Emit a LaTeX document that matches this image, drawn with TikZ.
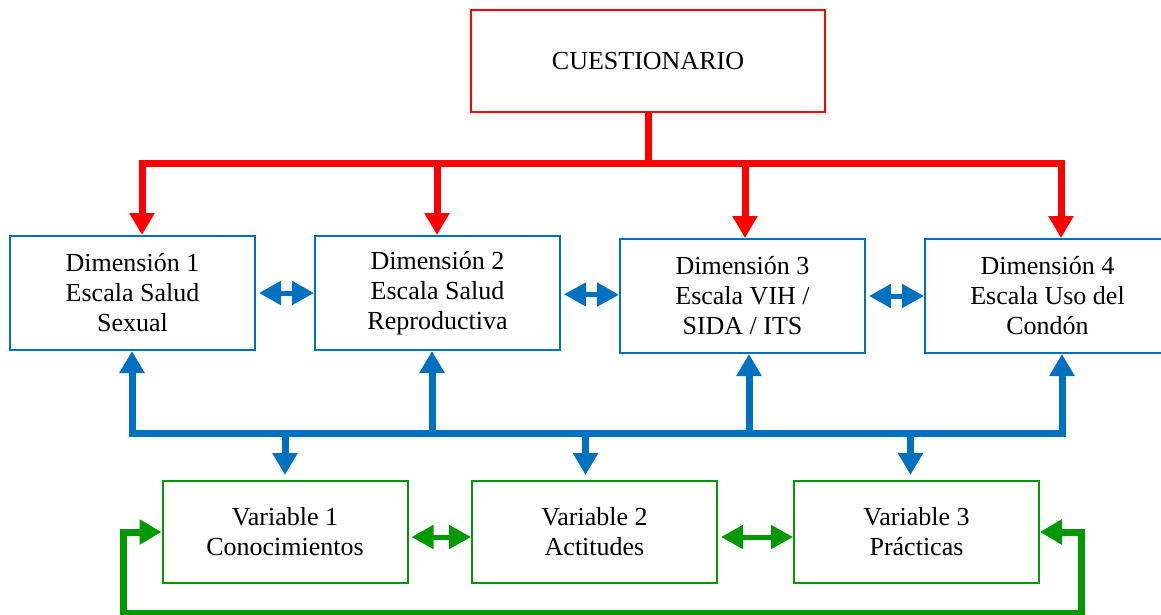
\documentclass[tikz,border=0pt]{standalone}
\usepackage{fontspec}
\setmainfont{Liberation Serif}
\usetikzlibrary{arrows.meta,positioning}
\definecolor{rojo}{HTML}{FF0000}
\definecolor{azul}{HTML}{0070C0}
\definecolor{verde}{HTML}{009900}

\begin{document}
\begin{tikzpicture}[x=1pt,y=-1pt,node distance=305pt,on grid,line join=miter,
		>={Triangle[width=24pt,length=22pt]},
		caja/.style={draw,line width=2pt,align=center,inner sep=0pt,minimum width=245pt,minimum height=114pt,font=\fontsize{26}{30}\selectfont},
		dim/.style={caja,draw=azul},
		var/.style={caja,draw=verde,minimum height=102pt},
		gruesa/.style={line width=7pt},
		doble/.style={line width=5pt,{Triangle[width=23pt,length=22pt]}-{Triangle[width=23pt,length=22pt]}}]
		\useasboundingbox (0,0) rectangle (1161,615);
		\node[caja,draw=rojo,minimum width=354pt,minimum height=102pt] (Q) at (648,61) {CUESTIONARIO};
		\node[dim]         (D_1)   at (132.5,293) {Dimensión 1\\Escala Salud\\Sexual};
		\node[dim]         (D_2)   [right=of D_1] {Dimensión 2\\Escala Salud\\Reproductiva};
		\node[dim]         (D_3)   [right=of D_2,yshift=-3pt] {Dimensión 3\\Escala VIH /\\SIDA / ITS};
		\node[dim]         (D_4)   [right=of D_3] {Dimensión 4\\Escala Uso del\\Condón};
		\node[var]         (V_1)   at (285,532) {Variable 1\\Conocimientos};
		\node[var]         (V_2)   at (594.5,532) {Variable 2\\Actitudes};
		\node[var]         (V_3)   at (916.5,532) {Variable 3\\Prácticas};
		
		\coordinate (r_1) at (142,163);
		\coordinate (r_2) at (437,163);
		\coordinate (r_3) at (745,163);
		\coordinate (r_4) at (1061,163);
		\coordinate (b_1) at (132,433);
		\coordinate (b_2) at (432,433);
		\coordinate (b_3) at (749,433);
		\coordinate (b_4) at (1062,433);
		\coordinate (g_1) at (123,613);
		\coordinate (g_2) at (1081,613);
		
		\draw[rojo,gruesa] (Q.south) -- (Q.south |- r_1);
		\draw[rojo,gruesa,<->] (D_1.north -| r_1) -- (r_1) -- (r_4) -- (D_4.north -| r_4);
		\draw[rojo,gruesa,->] (r_2) -- (D_2.north -| r_2);
		\draw[rojo,gruesa,->] (r_3) -- (D_3.north -| r_3);
		
		\draw[azul,gruesa,<->] (D_1.south -| b_1) -- (b_1) -- (b_4) -- (D_4.south -| b_4);
		\draw[azul,gruesa,->] (b_2) -- (D_2.south -| b_2);
		\draw[azul,gruesa,->] (b_3) -- (D_3.south -| b_3);
		\draw[azul,gruesa,->,shorten >=5pt] (V_1 |- b_1) -- (V_1.north);
		\draw[azul,gruesa,->,shorten >=5pt] ([xshift=-9pt]V_2.north |- b_1) -- ([xshift=-9pt]V_2.north);
		\draw[azul,gruesa,->,shorten >=5pt] ([xshift=-6pt]V_3.north |- b_1) -- ([xshift=-6pt]V_3.north);
		\draw[azul,doble,shorten <=3pt] (D_1) -- (D_2);
		\draw[azul,doble,shorten <=3pt] (D_2) -- (D_3);
		\draw[azul,doble,shorten <=3pt] (D_3) -- (D_4);
		
		\draw[verde,doble,shorten <=3pt] ([yshift=-5pt]V_1.east) -- ([yshift=-5pt]V_2.west);
		\draw[verde,doble,shorten <=3pt] ([yshift=-5pt]V_2.east) -- ([yshift=-5pt]V_3.west);
		\draw[verde,gruesa,<->] (V_1.west) -- (V_1.west -| g_1) -- (g_1) -- (g_2) -- (g_2 |- V_3.east) -- (V_3.east);
	\end{tikzpicture}
\end{document}
